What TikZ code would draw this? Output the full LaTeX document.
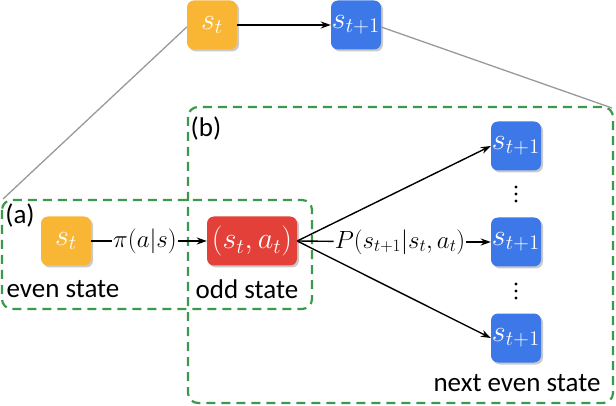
\documentclass[tikz,border=0pt]{standalone}
\usepackage{graphicx}
\usepackage{fontspec}
\setmainfont{Carlito}
\usetikzlibrary{shadows,arrows.meta}
\definecolor{cyel}{HTML}{F9B634}
\definecolor{cred}{HTML}{E4403A}
\definecolor{cblue}{HTML}{3C78E8}
\definecolor{cgreen}{HTML}{3A9A4A}
\newcommand{\bxm}[1]{\scalebox{1.45}{$#1$}}
\begin{document}
\begin{tikzpicture}[x=1pt,y=-1pt,
  box/.style={rounded corners=7pt,minimum height=49pt,inner sep=0pt,text=white,
     drop shadow={shadow xshift=2pt,shadow yshift=-2pt,opacity=0.35,fill=black!60}},
  yelbox/.style={box,fill=cyel,minimum width=50pt},
  redbox/.style={box,fill=cred,minimum width=90pt},
  bluebox/.style={box,fill=cblue,minimum width=50pt},
  grp/.style={draw=cgreen,line width=2.2pt,dash pattern=on 9pt off 6pt,rounded corners=10pt},
  zoomline/.style={draw=gray!80,line width=1.3pt},
  conn/.style={draw=black,line width=1.4pt,-{Stealth[length=10pt,width=7pt]}},
  plain/.style={draw=black,line width=1.4pt},
  txt/.style={font=\fontsize{27}{30}\selectfont,inner sep=0pt},
  mth/.style={font=\fontsize{26}{28}\selectfont,inner sep=1pt},
  boxmath/.style={font=\fontsize{20.74}{24}\selectfont},
  vdot/.style={fill=black}
]
\useasboundingbox (0,0) rectangle (616,406);
% dashed groups
\draw[grp] (2,200) rectangle (312,309);
\draw[grp] (188,107) rectangle (613,403);
\coordinate (acorner) at (3,199);
\coordinate (bcorner) at (612,108);
% nodes
\node[yelbox,boxmath] (st0) at (212,25) {\bxm{s_t}};
\node[bluebox,boxmath] (st1) at (356,25) {\bxm{s_{t+1}}};
\draw[zoomline] (st0.west) ++(0,2) -- (acorner);
\draw[zoomline] (st1.east) ++(0,2) -- (bcorner);
\draw[conn] (st0) -- (st1);

\node[txt] at (20,215) {(a)};
\node[txt] at (206,128) {(b)};

\node[yelbox,boxmath] (ys) at (66,241) {\bxm{s_t}};
\node[redbox,boxmath] (sa) at (252,241) {\bxm{(s_t,a_t)}};
\node[txt] (even) at (63,289) {even state};
\node[txt] (odd) at (247,289) {odd state};

\node[mth] (pi) at (145,241) {$\pi(a|s)$};
\draw[plain] (ys) -- (pi);
\draw[conn] (pi) -- (sa);

\node[bluebox,boxmath] (n1) at (516,146) {\bxm{s_{t+1}}};
\node[bluebox,boxmath] (n2) at (516,242) {\bxm{s_{t+1}}};
\node[bluebox,boxmath] (n3) at (516,338) {\bxm{s_{t+1}}};
\foreach \yy in {187,194,201,284,291,298}
  \fill[vdot] (516,\yy) circle (1.6pt);
\node[txt] (next) at (517,383) {next even state};

\node[mth] (P) at (400,242) {$P(s_{t+1}|s_t,a_t)$};
\draw[plain] (sa.east) -- (P);
\draw[conn] (P) -- (n2);
\draw[conn] (sa.east) -- (n1.west);
\draw[conn] (sa.east) -- (n3.west);
\end{tikzpicture}
\end{document}
